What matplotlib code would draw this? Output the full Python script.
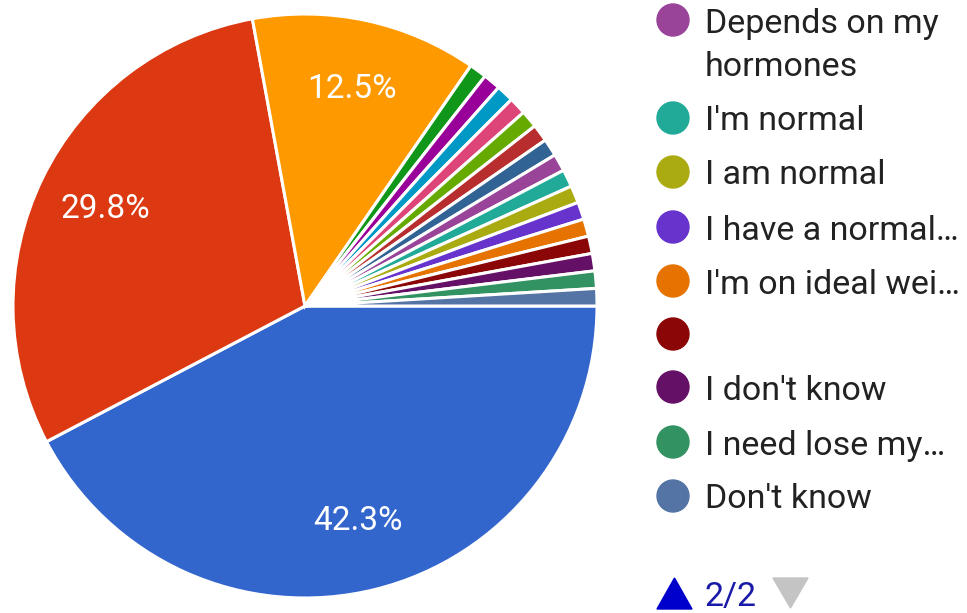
import matplotlib.pyplot as plt
from matplotlib.patches import Circle, Polygon

plt.rcParams['font.family'] = ['Roboto', 'DejaVu Sans']

# responses per answer (104 total), slices go clockwise from 3 o'clock
counts = [44, 31, 13] + [1] * 16
colors = ['#3366cc', '#dc3912', '#ff9900', '#109618', '#990099', '#0099c6',
          '#dd4477', '#66aa00', '#b82e2e', '#316395', '#994499', '#22aa99',
          '#aaaa11', '#6633cc', '#e67300', '#8b0707', '#651067', '#329262',
          '#5574a6']

# legend page 2/2: labels for the last nine slices
page_labels = ['Depends on my', "I'm normal", 'I am normal',
               'I have a normal…', "I'm on ideal wei…", '', "I don't know",
               'I need lose my…', "Don't know"]
page_colors = colors[-9:]

W, H = 967, 613
fig = plt.figure(figsize=(W / 100, H / 100), dpi=100)

cx, cy, r = 305, 306, 292
ax = fig.add_axes([(cx - r) / W, (H - cy - r) / H, 2 * r / W, 2 * r / H])

def pct(p):
    return f'{p:.1f}%' if p > 5 else ''

wedges, texts, autotexts = ax.pie(
    counts, colors=colors, startangle=0, counterclock=False, radius=1,
    autopct=pct, pctdistance=0.76,
    wedgeprops=dict(edgecolor='white', linewidth=2.2),
    textprops=dict(color='white', fontsize=24))
ax.set_xlim(-1, 1)
ax.set_ylim(-1, 1)
ax.set_aspect('equal')
ax.axis('off')

# legend drawn in pixel coordinates
lg = fig.add_axes([0, 0, 1, 1])
lg.set_xlim(0, W)
lg.set_ylim(H, 0)
lg.axis('off')

row_y = [20, 118, 172, 227, 281, 334, 387, 442, 496]
for y, lab, c in zip(row_y, page_labels, page_colors):
    lg.add_patch(Circle((673, y), 16, color=c))
    lg.text(705, y, lab, fontsize=24.5, color='#222222', va='center_baseline',
            ha='left')
lg.text(705, 63, 'hormones', fontsize=24.5, color='#222222',
        va='center_baseline', ha='left')

# pager
lg.add_patch(Polygon([[657, 609], [692, 609], [674.5, 578]], color='#0000cc'))
lg.text(705, 594, '2/2', fontsize=24.5, color='#1a1aa8', va='center_baseline')
lg.add_patch(Polygon([[773, 578], [808, 578], [790.5, 608]], color='#c4c4c4'))

fig.savefig('out.png', dpi=100)
